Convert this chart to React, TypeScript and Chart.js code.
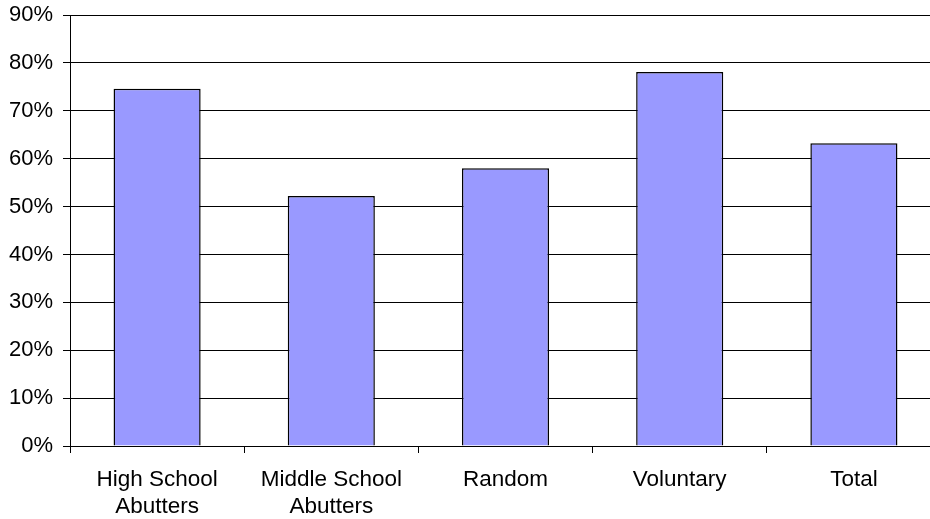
import React, { useEffect, useRef } from "react";
import { Chart, registerables } from "chart.js";

Chart.register(...registerables);

const categories: (string | string[])[] = [
  ["High School", "Abutters"],
  ["Middle School", "Abutters"],
  "Random",
  "Voluntary",
  "Total",
];
const values: number[] = [74.6, 52.2, 58.0, 78.1, 63.2];
const yTicks: number[] = [0, 10, 20, 30, 40, 50, 60, 70, 80, 90];

export default function App() {
  const ref = useRef<HTMLCanvasElement | null>(null);
  useEffect(() => {
    if (!ref.current) return;
    const family = "'Liberation Sans', Arial, sans-serif";
    const chart = new Chart(ref.current, {
      type: "bar",
      data: {
        labels: categories,
        datasets: [
          {
            data: values,
            backgroundColor: "#9999FF",
            borderColor: "#000000",
            borderWidth: 1.5,
            barPercentage: 0.5,
            categoryPercentage: 1,
          },
        ],
      },
      options: {
        responsive: false,
        animation: false,
        devicePixelRatio: 1,
        layout: { padding: { top: 15, right: 0, bottom: 0, left: 0 } },
        plugins: { legend: { display: false }, tooltip: { enabled: false } },
        scales: {
          x: {
            grid: {
              display: true,
              offset: true,
              drawOnChartArea: false,
              drawTicks: true,
              tickLength: 7,
              color: "#000",
            },
            border: { display: true, color: "#000" },
            ticks: {
              color: "#000",
              font: { family, size: 22.5, lineHeight: 1.22 },
              padding: 13,
              maxRotation: 0,
              autoSkip: false,
            },
            afterFit: (s: any) => {
              s.height = 73;
              s.paddingLeft = 0;
              s.paddingRight = 0;
            },
          },
          y: {
            min: 0,
            max: 90,
            afterBuildTicks: (s: any) => {
              s.ticks = yTicks.map((v) => ({ value: v }));
            },
            grid: { color: "#000", tickLength: 7, drawTicks: true },
            border: { display: true, color: "#000" },
            ticks: {
              color: "#000",
              font: { family, size: 22 },
              padding: 10,
              callback: (v: any) => v + "%",
            },
            afterFit: (s: any) => {
              s.width = 70;
              s.paddingTop = 0;
              s.paddingBottom = 0;
            },
          },
        },
      },
    });
    return () => chart.destroy();
  }, []);
  return (
    <div
      style={{
        position: "fixed",
        left: 0,
        top: 0,
        width: 930,
        height: 519,
        overflow: "hidden",
        background: "#fff",
      }}
    >
      <canvas ref={ref} width={941} height={519} style={{ display: "block" }} />
    </div>
  );
}
